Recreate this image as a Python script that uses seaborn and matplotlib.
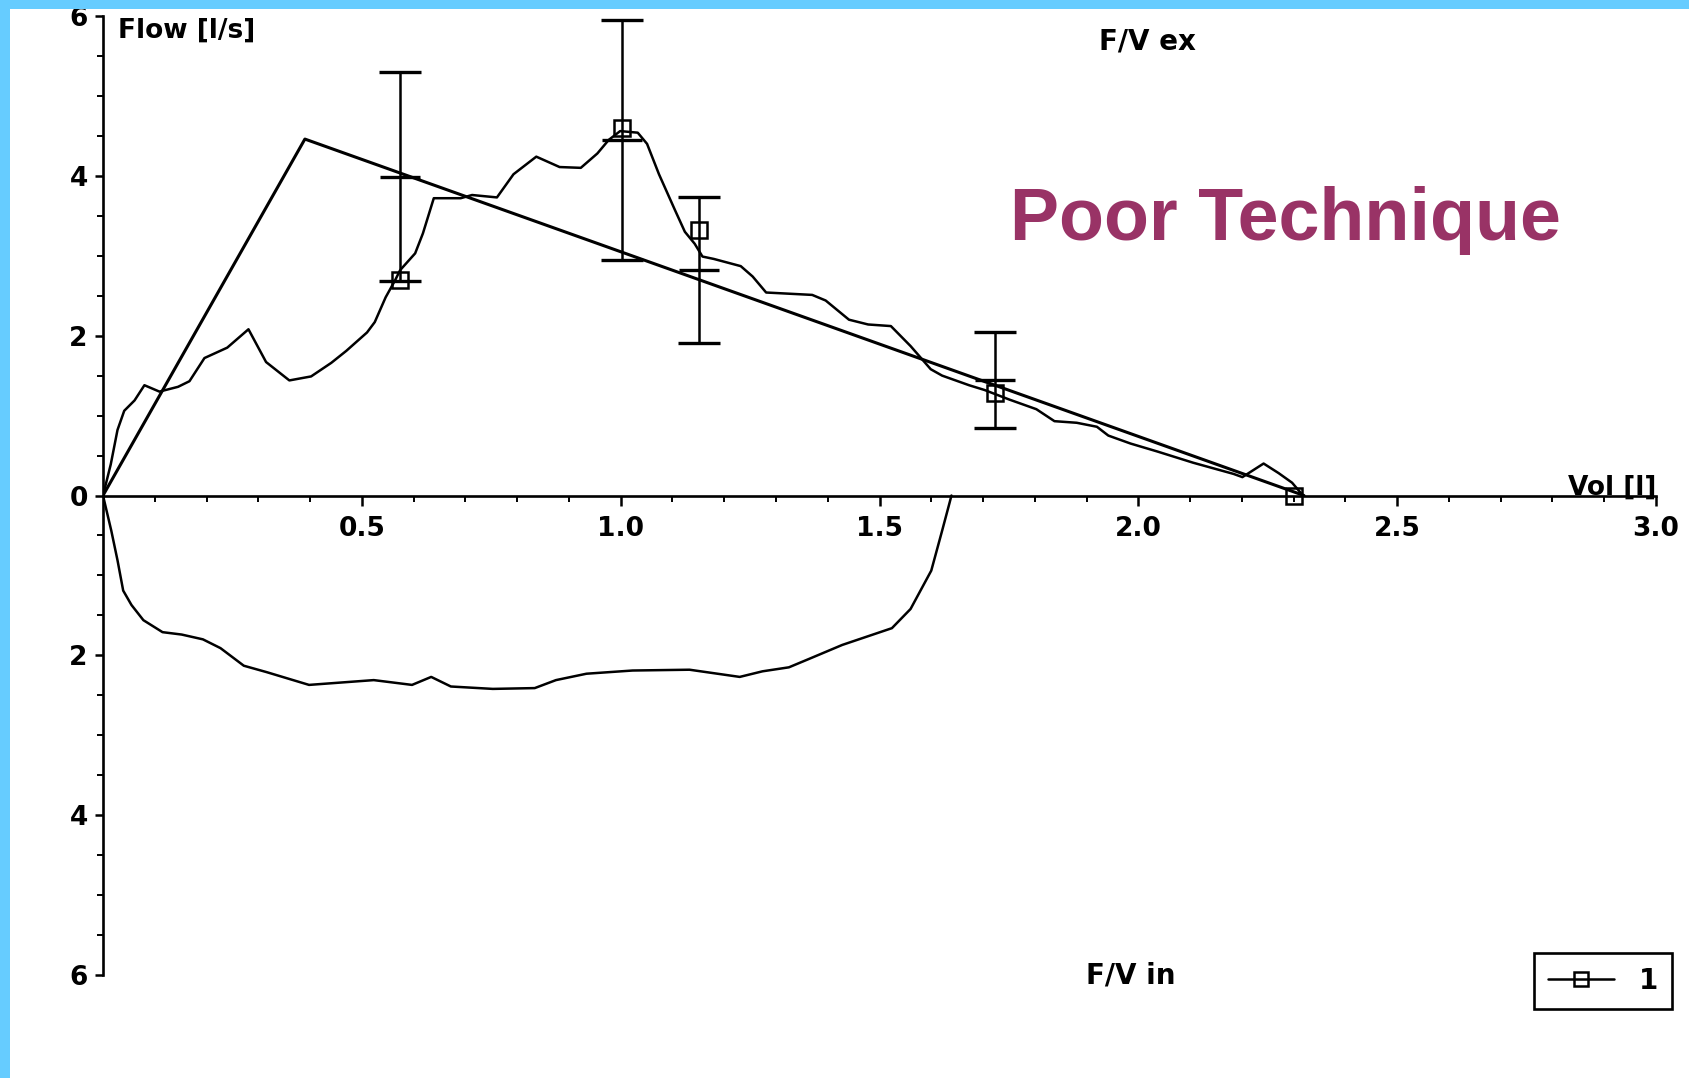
import numpy as np
import pandas as pd
import matplotlib
matplotlib.use("Agg")
import matplotlib.pyplot as plt
from matplotlib.lines import Line2D
from matplotlib.patches import Rectangle
import seaborn as sns

# ---------------- data ----------------
pred_vol = [0.0, 0.39, 2.32]
pred_flow = [0.0, 4.46, 0.0]

exp_vol = [0.0, 0.015, 0.028, 0.041, 0.061, 0.080, 0.109, 0.145, 0.167, 0.196, 0.240,
           0.281, 0.315, 0.360, 0.402, 0.441, 0.470, 0.510, 0.525, 0.546, 0.564, 0.574,
           0.603, 0.618, 0.639, 0.691, 0.713, 0.761, 0.793, 0.837, 0.882, 0.923, 0.955,
           0.977, 0.999, 1.033, 1.051, 1.074, 1.105, 1.124, 1.143, 1.158, 1.180, 1.232,
           1.255, 1.281, 1.370, 1.396, 1.441, 1.478, 1.522, 1.560, 1.599, 1.621, 1.673,
           1.703, 1.751, 1.803, 1.838, 1.881, 1.920, 1.942, 1.985, 2.037, 2.106, 2.184,
           2.201, 2.242, 2.271, 2.297, 2.318]
exp_flow = [0.0, 0.39, 0.82, 1.06, 1.19, 1.38, 1.30, 1.36, 1.43, 1.72, 1.85,
            2.08, 1.67, 1.44, 1.49, 1.66, 1.81, 2.04, 2.17, 2.48, 2.69, 2.82,
            3.03, 3.28, 3.72, 3.72, 3.76, 3.73, 4.02, 4.24, 4.11, 4.10, 4.28,
            4.45, 4.56, 4.54, 4.40, 4.02, 3.57, 3.30, 3.15, 2.99, 2.96, 2.87,
            2.74, 2.54, 2.51, 2.44, 2.20, 2.14, 2.12, 1.87, 1.58, 1.50, 1.38,
            1.32, 1.20, 1.08, 0.93, 0.91, 0.86, 0.75, 0.65, 0.55, 0.41, 0.27,
            0.23, 0.40, 0.28, 0.16, 0.0]

insp_vol = [0.0, 0.016, 0.028, 0.039, 0.055, 0.078, 0.115, 0.152, 0.193, 0.227, 0.272,
            0.316, 0.398, 0.523, 0.597, 0.634, 0.672, 0.753, 0.834, 0.875, 0.934,
            1.023, 1.133, 1.230, 1.274, 1.325, 1.362, 1.428, 1.524, 1.560, 1.600,
            1.621, 1.635, 1.639]
insp_flow = [0.0, -0.44, -0.81, -1.19, -1.37, -1.56, -1.71, -1.74, -1.80, -1.91, -2.13,
             -2.21, -2.37, -2.31, -2.37, -2.27, -2.39, -2.42, -2.41, -2.31, -2.23,
             -2.19, -2.18, -2.27, -2.20, -2.15, -2.05, -1.87, -1.66, -1.42, -0.94,
             -0.44, -0.10, 0.0]

eb_vol = [0.574, 1.002, 1.152, 1.724]
eb_mean = [3.99, 4.45, 2.82, 1.44]
eb_sd = [1.31, 1.50, 0.91, 0.60]

mark_vol = [0.574, 1.002, 1.152, 1.724, 2.30]
mark_flow = [2.70, 4.60, 3.32, 1.28, 0.0]

x_ticks = [0.5, 1.0, 1.5, 2.0, 2.5, 3.0]
x_ticklabels = ["0.5", "1.0", "1.5", "2.0", "2.5", "3.0"]
y_ticks = [-6, -4, -2, 0, 2, 4, 6]
y_ticklabels = ["6", "4", "2", "0", "2", "4", "6"]

# ---------------- style ----------------
sns.set_style("white")
plt.rcParams["font.family"] = ["DejaVu Sans"]
plt.rcParams["font.weight"] = "bold"
plt.rcParams["text.color"] = "black"
plt.rcParams["xtick.bottom"] = True
plt.rcParams["ytick.left"] = True

W, H = 1689, 1078
fig = plt.figure(figsize=(W / 100, H / 100), dpi=100)
fig.patch.set_facecolor("white")
ax = fig.add_axes([103 / W, 1 - 975 / H, (1656 - 103) / W, (975 - 16) / H])
ax.set_facecolor("white")

black = "black"
sns.lineplot(x=pred_vol, y=pred_flow, sort=False, estimator=None, color=black,
             lw=2.2, ax=ax)
sns.lineplot(x=exp_vol, y=exp_flow, sort=False, estimator=None, color=black,
             lw=1.8, ax=ax)
sns.lineplot(x=insp_vol, y=insp_flow, sort=False, estimator=None, color=black,
             lw=1.8, ax=ax)

ax.errorbar(eb_vol, eb_mean, yerr=eb_sd, fmt="_", color=black, ms=29, mew=2.4,
            ecolor=black, elinewidth=1.8, capsize=15, capthick=2.6, zorder=3)
ax.plot(mark_vol, mark_flow, ls="none", marker="s", ms=11, mfc="none",
        mec=black, mew=1.8, zorder=4)

ax.set_xlim(0, 3.0)
ax.set_ylim(-6, 6)

for s in ["top", "right"]:
    ax.spines[s].set_visible(False)
ax.spines["bottom"].set_position(("data", 0))
for s in ["left", "bottom"]:
    ax.spines[s].set_color(black)
    ax.spines[s].set_linewidth(1.9)

ax.set_xticks(x_ticks)
ax.set_xticklabels(x_ticklabels)
ax.set_xticks(np.arange(0.1, 3.0, 0.1), minor=True)
ax.set_yticks(y_ticks)
ax.set_yticklabels(y_ticklabels)
ax.set_yticks(np.arange(-6, 6.01, 0.5), minor=True)

ax.tick_params(axis="x", which="both", bottom=True, top=False)
ax.tick_params(axis="y", which="both", left=True, right=False)
ax.tick_params(axis="x", which="major", direction="out", length=7, width=1.8,
               pad=8, labelsize=19, colors=black)
ax.tick_params(axis="x", which="minor", direction="out", length=4, width=1.4,
               colors=black)
ax.tick_params(axis="y", which="major", direction="out", length=6, width=1.8,
               pad=5, labelsize=19, colors=black)
ax.tick_params(axis="y", which="minor", direction="out", length=4, width=1.4,
               colors=black)
for lab in ax.get_xticklabels() + ax.get_yticklabels():
    lab.set_fontweight("bold")
ax.set_xlabel("")
ax.set_ylabel("")

# ---------------- texts ----------------
fig.text(118 / W, 1 - 31 / H, "Flow [l/s]", fontsize=19, fontweight="bold",
         ha="left", va="center", color=black)
fig.text(1099 / W, 1 - 42 / H, "F/V ex", fontsize=20, fontweight="bold",
         ha="left", va="center", color=black)
fig.text(1656 / W, 1 - 488 / H, "Vol [l]", fontsize=19, fontweight="bold",
         ha="right", va="center", color=black)
fig.text(1086 / W, 1 - 975 / H, "F/V in", fontsize=20, fontweight="bold",
         ha="left", va="center", color=black)
fig.text(1010 / W, 1 - 240 / H, "Poor Technique", fontsize=53, fontweight="bold",
         family=["Liberation Sans", "DejaVu Sans"], ha="left", va="baseline",
         color="#993366")

# ---------------- legend ----------------
handle = Line2D([0], [0], color=black, lw=1.8, marker="s", ms=10, mfc="none",
                mec=black, mew=1.8)
leg = ax.legend(handles=[handle], labels=["1"], loc="center",
                bbox_to_anchor=(1603 / W, 1 - 981 / H), bbox_transform=fig.transFigure,
                frameon=True, fancybox=False, framealpha=1, edgecolor=black,
                prop={"size": 20, "weight": "bold"}, handlelength=2.4,
                handletextpad=0.9, borderpad=0.5, numpoints=1, labelcolor=black)
leg.get_frame().set_linewidth(1.9)

# ---------------- scan border ----------------
blue = "#66ccff"
fig.patches.append(Rectangle((0, 1 - 9 / H), 1, 9 / H, transform=fig.transFigure,
                             facecolor=blue, edgecolor="none", zorder=10))
fig.patches.append(Rectangle((0, 0), 10 / W, 1, transform=fig.transFigure,
                             facecolor=blue, edgecolor="none", zorder=10))

fig.savefig("out.png", dpi=100, facecolor="white")
